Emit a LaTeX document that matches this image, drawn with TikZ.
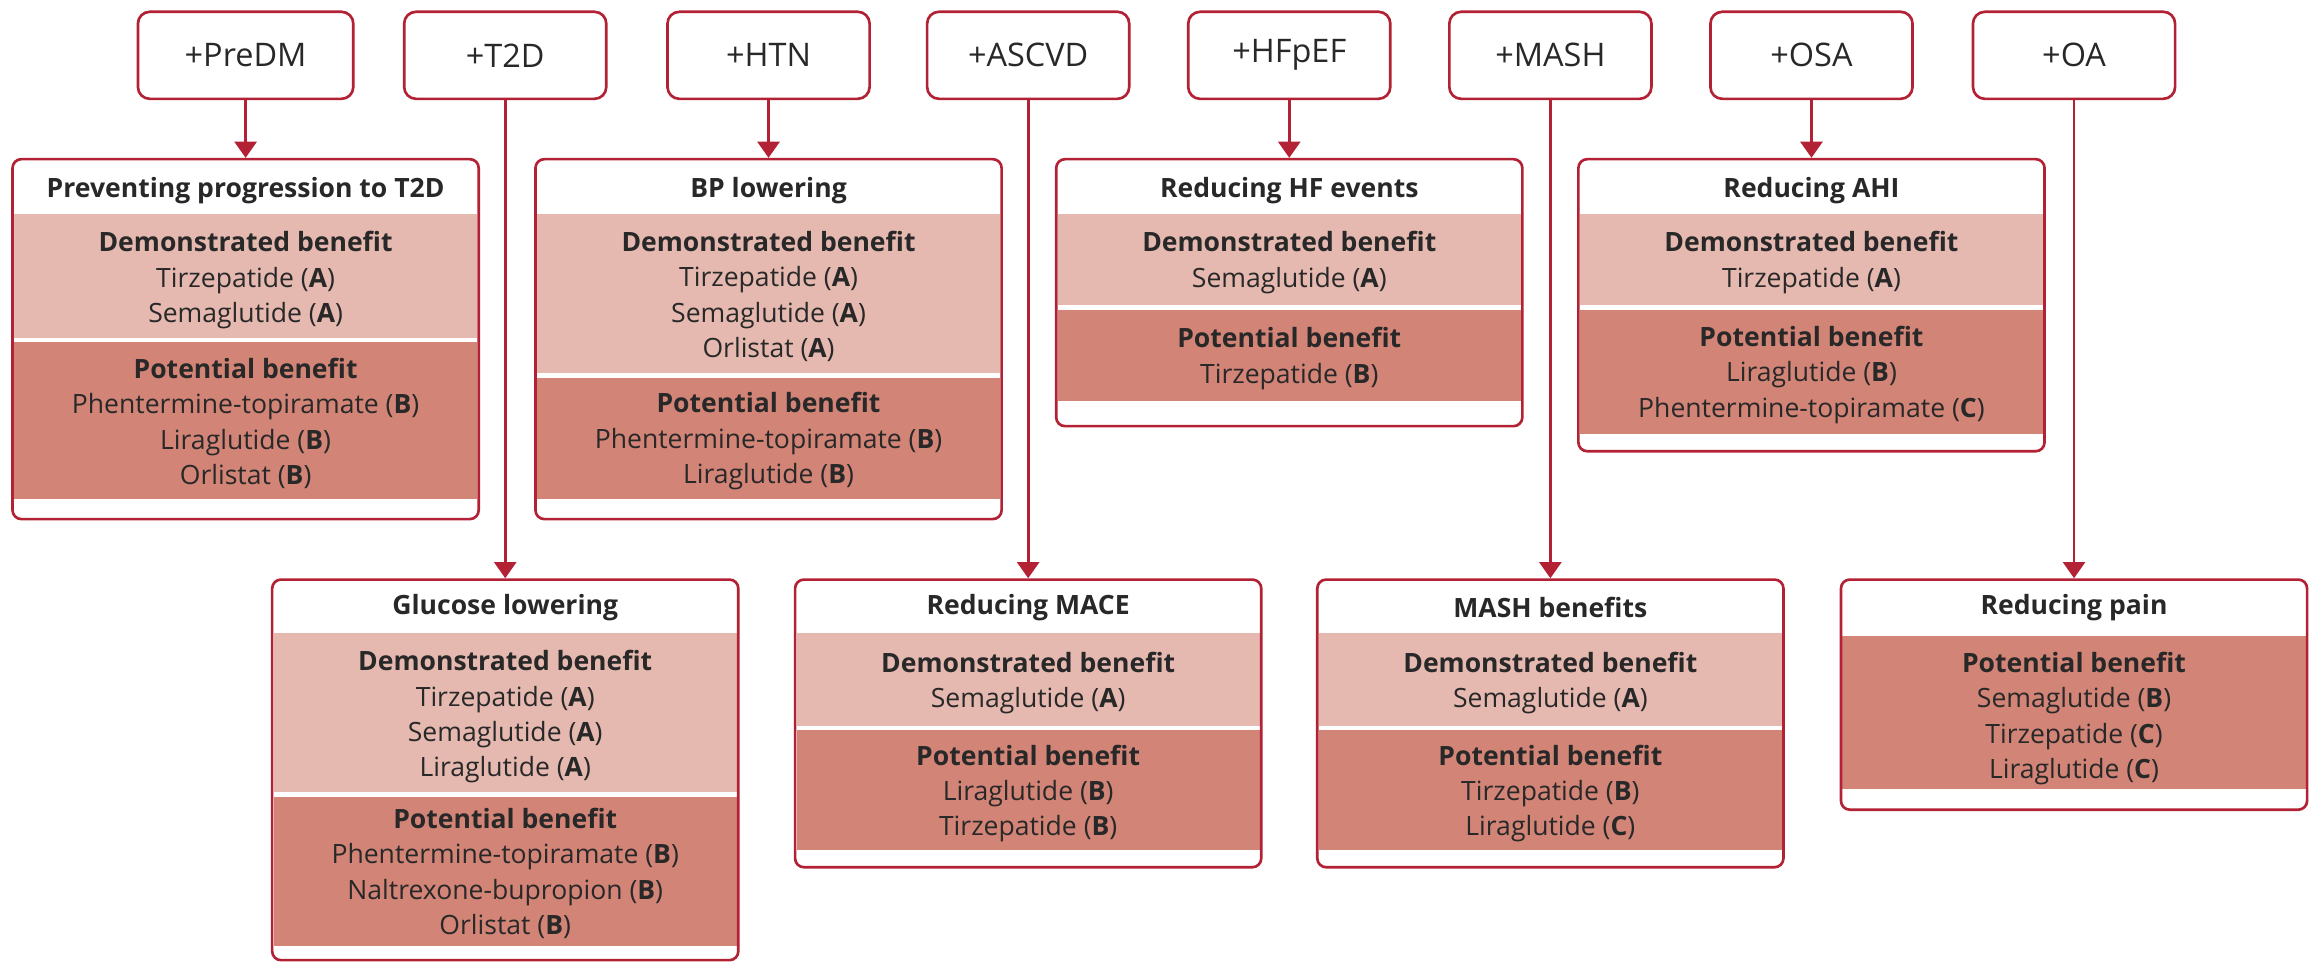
\documentclass[tikz,border=0pt]{standalone}
\usepackage{fontspec}
\setmainfont{Open Sans}
\usetikzlibrary{arrows.meta}
\definecolor{crim}{RGB}{178,34,52}
\definecolor{demfill}{RGB}{230,185,176}
\definecolor{potfill}{RGB}{210,132,119}
\definecolor{ink}{RGB}{40,40,40}
\begin{document}
\begin{tikzpicture}[x=1pt,y=-1pt,
    topbox/.style={draw=crim, line width=1.8pt, rounded corners=8pt, minimum width=137pt, minimum height=59pt, text=ink, font=\fontsize{22}{26}\selectfont},
    outbox/.style={draw=crim, line width=1.8pt, rounded corners=6pt, minimum width=316pt, anchor=north, inner sep=0pt},
    ttl/.style={text=ink, inner sep=0pt, font=\fontsize{18}{24}\selectfont\bfseries},
    txt/.style={text=ink, inner sep=0pt, align=center, font=\fontsize{18}{24}\selectfont},
    dem/.style={fill=demfill}, pot/.style={fill=potfill},
    arr/.style={draw=crim, line width=1.8pt, -{Triangle[width=15pt,length=11pt]}}]
    \useasboundingbox (0,0) rectangle (1568,652);

    \node[topbox, minimum width=146pt] (predm) at (166.5,37.5) {+PreDM};
    \node[topbox] (t2d) at (342.5,37.5) {+T2D};
    \node[topbox] (htn) at (521,37.5) {+HTN};
    \node[topbox] (ascvd) at (697,37.5) {+ASCVD};
    \node[topbox] (hfpef) at (874,37.5) {+HFpEF};
    \node[topbox] (mashtop) at (1051,37.5) {+MASH};
    \node[topbox] (osa) at (1228,37.5) {+OSA};
    \node[topbox] (oa) at (1406,37.5) {+OA};

    \fill[dem] (9.5,145) rectangle (323.5,229);
    \fill[pot] (9.5,232) rectangle (323.5,338);
    \node[ttl] (prevent-t) at (166.5,129) {Preventing progression to T2D};
    \node[txt] (prevent-d) at (166.5,190) {\textbf{Demonstrated benefit}\\Tirzepatide (\textbf{A})\\Semaglutide (\textbf{A})};
    \node[txt] (prevent-p) at (166.5,287) {\textbf{Potential benefit}\\Phentermine-topiramate (\textbf{B})\\Liraglutide (\textbf{B})\\Orlistat (\textbf{B})};
    \node[outbox, minimum height=244pt] (prevent) at (166.5,107) {};

    \fill[dem] (364,145) rectangle (678,253);
    \fill[pot] (364,256) rectangle (678,338);
    \node[ttl] (bp-t) at (521,129) {BP lowering};
    \node[txt] (bp-d) at (521,201) {\textbf{Demonstrated benefit}\\Tirzepatide (\textbf{A})\\Semaglutide (\textbf{A})\\Orlistat (\textbf{A})};
    \node[txt] (bp-p) at (521,299) {\textbf{Potential benefit}\\Phentermine-topiramate (\textbf{B})\\Liraglutide (\textbf{B})};
    \node[outbox, minimum height=244pt] (bp) at (521,107) {};

    \fill[dem] (717,145) rectangle (1031,207);
    \fill[pot] (717,210) rectangle (1031,272);
    \node[ttl] (hf-t) at (874,129) {Reducing HF events};
    \node[txt] (hf-d) at (874,178) {\textbf{Demonstrated benefit}\\Semaglutide (\textbf{A})};
    \node[txt] (hf-p) at (874,243) {\textbf{Potential benefit}\\Tirzepatide (\textbf{B})};
    \node[outbox, minimum height=181pt] (hf) at (874,107) {};

    \fill[dem] (1071,145) rectangle (1385,207);
    \fill[pot] (1071,210) rectangle (1385,294);
    \node[ttl] (ahi-t) at (1228,129) {Reducing AHI};
    \node[txt] (ahi-d) at (1228,178) {\textbf{Demonstrated benefit}\\Tirzepatide (\textbf{A})};
    \node[txt] (ahi-p) at (1228,254) {\textbf{Potential benefit}\\Liraglutide (\textbf{B})\\Phentermine-topiramate (\textbf{C})};
    \node[outbox, minimum height=198pt] (ahi) at (1228,107) {};

    \fill[dem] (185.5,429) rectangle (499.5,537);
    \fill[pot] (185.5,540) rectangle (499.5,641);
    \node[ttl] (glucose-t) at (342.5,412) {Glucose lowering};
    \node[txt] (glucose-d) at (342.5,486) {\textbf{Demonstrated benefit}\\Tirzepatide (\textbf{A})\\Semaglutide (\textbf{A})\\Liraglutide (\textbf{A})};
    \node[txt] (glucose-p) at (342.5,592) {\textbf{Potential benefit}\\Phentermine-topiramate (\textbf{B})\\Naltrexone-bupropion (\textbf{B})\\Orlistat (\textbf{B})};
    \node[outbox, minimum height=258pt] (glucose) at (342.5,392) {};

    \fill[dem] (540,429) rectangle (854,492);
    \fill[pot] (540,495) rectangle (854,576);
    \node[ttl] (mace-t) at (697,412) {Reducing MACE};
    \node[txt] (mace-d) at (697,463) {\textbf{Demonstrated benefit}\\Semaglutide (\textbf{A})};
    \node[txt] (mace-p) at (697,538) {\textbf{Potential benefit}\\Liraglutide (\textbf{B})\\Tirzepatide (\textbf{B})};
    \node[outbox, minimum height=195pt] (mace) at (697,392) {};

    \fill[dem] (894,429) rectangle (1208,492);
    \fill[pot] (894,495) rectangle (1208,576);
    \node[ttl] (mash-t) at (1051,412) {MASH benefits};
    \node[txt] (mash-d) at (1051,463) {\textbf{Demonstrated benefit}\\Semaglutide (\textbf{A})};
    \node[txt] (mash-p) at (1051,538) {\textbf{Potential benefit}\\Tirzepatide (\textbf{B})\\Liraglutide (\textbf{C})};
    \node[outbox, minimum height=195pt] (mash) at (1051,392) {};

    \fill[pot] (1249,431) rectangle (1563,535);
    \node[ttl] (pain-t) at (1406,412) {Reducing pain};
    \node[txt] (pain-p) at (1406,487) {\textbf{Potential benefit}\\Semaglutide (\textbf{B})\\Tirzepatide (\textbf{C})\\Liraglutide (\textbf{C})};
    \node[outbox, minimum height=156pt] (pain) at (1406,392) {};

    \draw[arr] (predm) -- (prevent);
    \draw[arr] (t2d) -- (glucose);
    \draw[arr] (htn) -- (bp);
    \draw[arr] (ascvd) -- (mace);
    \draw[arr] (hfpef) -- (hf);
    \draw[arr] (mashtop) -- (mash);
    \draw[arr] (osa) -- (ahi);
    \draw[arr] (oa) -- (pain);
\end{tikzpicture}
\end{document}
